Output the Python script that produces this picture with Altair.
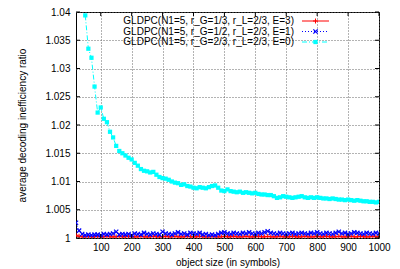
import altair as alt
import pandas as pd

# ---------------- data ----------------
object_sizes = list(range(20, 1001, 10))  # 20 .. 1000

red_values = [
    1.0005, 1.0003, 1.0002, 1.0002, 1.0003, 1.0002, 1.0002, 1.0003, 1.0002, 1.0002,
    1.0003, 1.0002, 1.0002, 1.0002, 1.0003, 1.0002, 1.0002, 1.0003, 1.0002, 1.0002,
    1.0002, 1.0003, 1.0002, 1.0002, 1.0002, 1.0003, 1.0002, 1.0002, 1.0002, 1.0003,
    1.0002, 1.0002, 1.0003, 1.0002, 1.0002, 1.0002, 1.0003, 1.0002, 1.0002, 1.0002,
    1.0003, 1.0002, 1.0002, 1.0002, 1.0003, 1.0002, 1.0002, 1.0002, 1.0003, 1.0002,
    1.0002, 1.0003, 1.0002, 1.0002, 1.0002, 1.0003, 1.0002, 1.0002, 1.0002, 1.0003,
    1.0002, 1.0002, 1.0003, 1.0002, 1.0002, 1.0002, 1.0003, 1.0002, 1.0002, 1.0002,
    1.0003, 1.0002, 1.0002, 1.0002, 1.0003, 1.0002, 1.0002, 1.0002, 1.0003, 1.0002,
    1.0002, 1.0003, 1.0002, 1.0002, 1.0002, 1.0003, 1.0002, 1.0002, 1.0002, 1.0003,
    1.0002, 1.0002, 1.0003, 1.0002, 1.0002, 1.0002, 1.0003, 1.0002, 1.0002,
]

blue_values = [
    1.0027, 1.0013, 1.0007, 1.0005, 1.0006, 1.0005, 1.0006, 1.0006, 1.0005, 1.0007,
    1.0006, 1.0007, 1.0008, 1.0011, 1.0006, 1.0007, 1.0006, 1.0007, 1.0005, 1.0008,
    1.0007, 1.0006, 1.0009, 1.0007, 1.0006, 1.0008, 1.0007, 1.0006, 1.0011, 1.0008,
    1.0007, 1.0006, 1.0008, 1.0010, 1.0007, 1.0008, 1.0006, 1.0009, 1.0008, 1.0007,
    1.0009, 1.0006, 1.0007, 1.0005, 1.0006, 1.0005, 1.0007, 1.0009, 1.0010, 1.0008,
    1.0007, 1.0009, 1.0008, 1.0007, 1.0009, 1.0008, 1.0010, 1.0008, 1.0007, 1.0009,
    1.0008, 1.0010, 1.0012, 1.0009, 1.0008, 1.0007, 1.0009, 1.0008, 1.0007, 1.0008,
    1.0009, 1.0007, 1.0008, 1.0009, 1.0008, 1.0007, 1.0009, 1.0008, 1.0010, 1.0008,
    1.0007, 1.0009, 1.0008, 1.0007, 1.0009, 1.0011, 1.0008, 1.0009, 1.0007, 1.0008,
    1.0010, 1.0009, 1.0008, 1.0007, 1.0009, 1.0008, 1.0007, 1.0009, 1.0008,
]

cyan_sizes = list(range(50, 1001, 10))  # 50 .. 1000
cyan_values = [
    1.0394, 1.0335, 1.0319, 1.0268, 1.0222, 1.0231, 1.0211, 1.0205, 1.0188, 1.0178,
    1.0163, 1.0154, 1.0150, 1.0146, 1.0142, 1.0139, 1.0133, 1.0128, 1.0122, 1.0119,
    1.0118, 1.0116, 1.0117, 1.0112, 1.0108, 1.0106, 1.0105, 1.0103, 1.0100, 1.0098,
    1.0097, 1.0094, 1.0095, 1.0092, 1.0091, 1.0089, 1.0088, 1.0090, 1.0089, 1.0088,
    1.0090, 1.0092, 1.0093, 1.0089, 1.0084, 1.0083, 1.0086, 1.0083, 1.0082, 1.0081,
    1.0082, 1.0080, 1.0081, 1.0080, 1.0079, 1.0080, 1.0078, 1.0077, 1.0077, 1.0076,
    1.0076, 1.0074, 1.0071, 1.0072, 1.0074, 1.0073, 1.0072, 1.0071, 1.0072, 1.0073,
    1.0074, 1.0072, 1.0071, 1.0072, 1.0071, 1.0072, 1.0071, 1.0070, 1.0070, 1.0069,
    1.0070, 1.0069, 1.0068, 1.0068, 1.0067, 1.0068, 1.0067, 1.0066, 1.0067, 1.0066,
    1.0065, 1.0065, 1.0064, 1.0064, 1.0063, 1.0064,
]

series_labels = [
    "GLDPC(N1=5, r_G=1/3, r_L=2/3, E=3)",
    "GLDPC(N1=5, r_G=1/2, r_L=2/3, E=1)",
    "GLDPC(N1=5, r_G=2/3, r_L=2/3, E=0)",
]
series_colors = ["#ff0000", "#0000ff", "#00ffff"]

x_ticks = [100, 200, 300, 400, 500, 600, 700, 800, 900, 1000]
y_ticks = [1.0, 1.005, 1.01, 1.015, 1.02, 1.025, 1.03, 1.035, 1.04]

x_title = "object size (in symbols)"
y_title = "average decoding inefficiency ratio"

# ---------------- layout ----------------
W, H = 303, 226
FONT = "Liberation Sans"

x_scale = alt.Scale(domain=[20, 1000], nice=False, zero=False)
y_scale = alt.Scale(domain=[1.0, 1.04], nice=False, zero=False)

x_axis = alt.Axis(values=x_ticks, format="d", title=x_title, grid=True,
                  gridDash=[1, 2], gridColor="#666666", domain=False,
                  ticks=False, labelPadding=4, titlePadding=5,
                  labelOverlap=False, labelFlush=False)
y_axis = alt.Axis(values=y_ticks, format=".3~f", title=y_title, grid=True,
                  gridDash=[1, 2], gridColor="#666666", domain=False,
                  ticks=False, labelPadding=6, titlePadding=17,
                  labelOverlap=False, labelFlush=False)


def X(field):
    return alt.X(field, scale=x_scale, axis=x_axis, title=x_title)


def Y(field):
    return alt.Y(field, scale=y_scale, axis=y_axis, title=y_title)


plus_path = "M-1,0L1,0M0,-1L0,1"
x_path = "M-1,-1L1,1M-1,1L1,-1"

series_sizes = [object_sizes, object_sizes, cyan_sizes]
series_vals = [red_values, blue_values, cyan_values]
dashes = [[1, 0], [1, 2], [5, 2, 1, 2]]

layers = []

# series
for i in range(3):
    df = pd.DataFrame({"x": series_sizes[i], "y": series_vals[i]})
    enc = dict(x=X("x:Q"), y=Y("y:Q"))
    layers.append(alt.Chart(df).mark_line(
        color=series_colors[i], strokeWidth=1, strokeDash=dashes[i], clip=True
    ).encode(**enc))
    if i == 0:
        pt = alt.Chart(df).mark_point(shape=plus_path, filled=False, size=25,
                                      color=series_colors[i], strokeWidth=1,
                                      opacity=1, clip=True).encode(**enc)
    elif i == 1:
        pt = alt.Chart(df).mark_point(shape=x_path, filled=False, size=18,
                                      color=series_colors[i], strokeWidth=1.2,
                                      opacity=1, clip=True).encode(**enc)
    else:
        pt = alt.Chart(df).mark_point(shape="square", filled=True, size=18,
                                      color=series_colors[i], opacity=1,
                                      clip=True).encode(**enc)
    layers.append(pt)

# inward tick marks (gnuplot style, mirrored)
xt = pd.DataFrame({"x": x_ticks})
yt = pd.DataFrame({"y": y_ticks})
tick_len = 4
layers.append(alt.Chart(xt).mark_rule(color="black").encode(
    x=X("x:Q"), y=alt.value(H), y2=alt.value(H - tick_len)))
layers.append(alt.Chart(xt).mark_rule(color="black").encode(
    x=X("x:Q"), y=alt.value(0), y2=alt.value(tick_len)))
layers.append(alt.Chart(yt).mark_rule(color="black").encode(
    y=Y("y:Q"), x=alt.value(0), x2=alt.value(tick_len)))
layers.append(alt.Chart(yt).mark_rule(color="black").encode(
    y=Y("y:Q"), x=alt.value(W), x2=alt.value(W - tick_len)))

# legend (gnuplot style: text right aligned, sample on the right)
legend_rows_y = [9, 19.5, 30]
text_right = 218
samp_x1, samp_x2 = 226, 253
samp_mid = (samp_x1 + samp_x2) / 2
for i in range(3):
    ldf = pd.DataFrame({"label": [series_labels[i]]})
    layers.append(alt.Chart(ldf).mark_text(
        align="right", baseline="middle", font=FONT, fontSize=10, color="black"
    ).encode(x=alt.value(text_right), y=alt.value(legend_rows_y[i]), text="label:N"))
    layers.append(alt.Chart(ldf).mark_rule(
        color=series_colors[i], strokeWidth=1, strokeDash=dashes[i]
    ).encode(x=alt.value(samp_x1), x2=alt.value(samp_x2), y=alt.value(legend_rows_y[i])))
    if i == 0:
        lp = alt.Chart(ldf).mark_point(shape=plus_path, filled=False, size=25,
                                       color=series_colors[i], strokeWidth=1, opacity=1)
    elif i == 1:
        lp = alt.Chart(ldf).mark_point(shape=x_path, filled=False, size=18,
                                       color=series_colors[i], strokeWidth=1.2, opacity=1)
    else:
        lp = alt.Chart(ldf).mark_point(shape="square", filled=True, size=18,
                                       color=series_colors[i], opacity=1)
    layers.append(lp.encode(x=alt.value(samp_mid), y=alt.value(legend_rows_y[i])))

chart = alt.layer(*layers).properties(
    width=W, height=H,
    autosize=alt.AutoSizeParams(type="none"),
    padding={"left": 68, "top": 4, "right": 13, "bottom": 31},
).configure_view(
    stroke="black", strokeWidth=1
).configure_axis(
    labelFont=FONT, titleFont=FONT, labelFontSize=10, titleFontSize=10,
    labelColor="black", titleColor="black", titleFontWeight="normal",
)

chart.save("out.html", embed_options={"renderer": "svg", "actions": False})
